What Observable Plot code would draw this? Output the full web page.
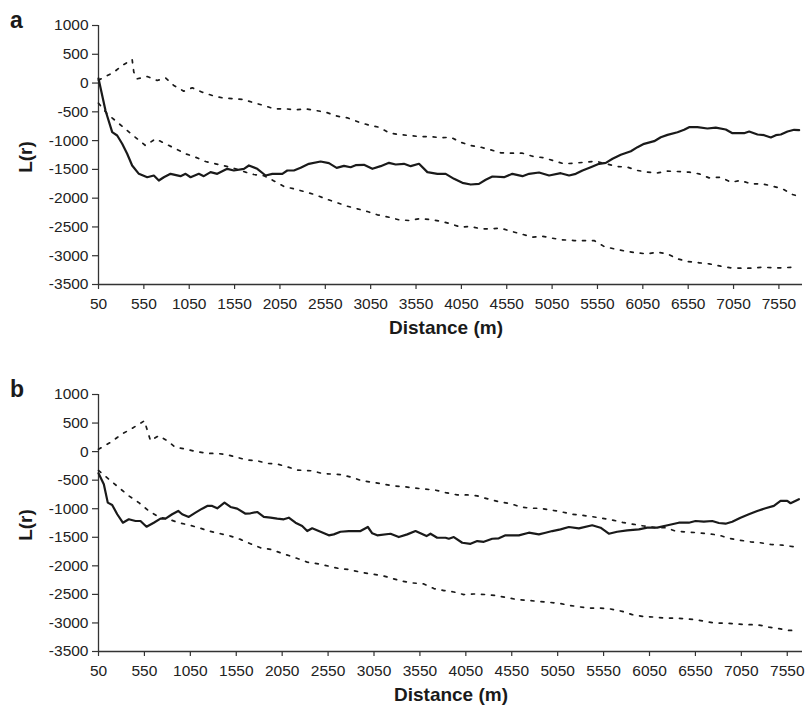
<!DOCTYPE html>
<html>
<head>
<meta charset="utf-8">
<script src="https://cdn.jsdelivr.net/npm/d3@7"></script>
<script src="https://cdn.jsdelivr.net/npm/@observablehq/plot@0.6"></script>
<style>
  html, body { margin: 0; padding: 0; background: #fff; }
  #wrap { position: relative; width: 810px; height: 707px; font-family: "Liberation Sans", Arial, sans-serif; }
  #wrap svg.plotsvg { position: absolute; left: 0; }
  #overlay { position: absolute; left: 0; top: 0; pointer-events: none; }
</style>
</head>
<body>
<div id="wrap"></div>
<script>
// ---------- DATA (distance m, L(r)) ----------
const xTicks = [50, 550, 1050, 1550, 2050, 2550, 3050, 3550, 4050, 4550, 5050, 5550, 6050, 6550, 7050, 7550];
const yTicks = [1000, 500, 0, -500, -1000, -1500, -2000, -2500, -3000, -3500];

// Panel a
const aObserved = [[50,80],[127,-477],[201,-853],[256,-911],[311,-1055],[366,-1229],[421,-1432],[495,-1577],[587,-1636],[660,-1606],[715,-1693],[770,-1636],[844,-1577],[954,-1618],[1010,-1577],[1065,-1636],[1156,-1577],[1211,-1618],[1285,-1548],[1359,-1577],[1469,-1490],[1542,-1519],[1653,-1490],[1708,-1432],[1800,-1490],[1892,-1606],[1966,-1577],[2076,-1577],[2131,-1519],[2204,-1519],[2278,-1473],[2369,-1403],[2498,-1363],[2590,-1392],[2675,-1473],[2756,-1438],[2829,-1462],[2884,-1427],[2976,-1421],[3069,-1490],[3160,-1444],[3252,-1386],[3326,-1415],[3417,-1403],[3491,-1444],[3583,-1403],[3675,-1548],[3786,-1577],[3877,-1577],[3969,-1664],[4061,-1733],[4153,-1763],[4244,-1751],[4318,-1681],[4392,-1624],[4520,-1636],[4612,-1577],[4723,-1618],[4796,-1577],[4906,-1554],[5017,-1606],[5145,-1566],[5237,-1606],[5311,-1577],[5385,-1519],[5476,-1462],[5568,-1403],[5642,-1386],[5716,-1316],[5807,-1247],[5918,-1184],[5991,-1114],[6064,-1056],[6175,-1010],[6248,-941],[6322,-900],[6432,-854],[6505,-812],[6560,-767],[6652,-767],[6762,-790],[6854,-773],[6964,-807],[7038,-871],[7166,-871],[7222,-842],[7314,-894],[7387,-906],[7461,-946],[7516,-906],[7571,-894],[7645,-842],[7718,-812],[7773,-819]];
const aUpper = [[50,50],[219,189],[311,305],[421,410],[439,189],[477,74],[587,114],[697,45],[789,91],[880,-42],[990,-141],[1083,-82],[1194,-159],[1304,-216],[1414,-256],[1542,-273],[1653,-286],[1763,-343],[1873,-390],[1984,-447],[2112,-447],[2223,-465],[2333,-447],[2443,-477],[2553,-506],[2683,-576],[2793,-604],[2922,-680],[3032,-732],[3142,-767],[3252,-865],[3362,-894],[3472,-911],[3583,-929],[3712,-929],[3822,-952],[3932,-941],[4042,-1028],[4153,-1085],[4263,-1114],[4373,-1160],[4484,-1212],[4612,-1219],[4723,-1219],[4833,-1271],[4961,-1299],[5072,-1352],[5182,-1403],[5292,-1392],[5421,-1375],[5531,-1357],[5642,-1403],[5771,-1450],[5881,-1462],[5991,-1519],[6101,-1548],[6212,-1560],[6322,-1531],[6432,-1537],[6560,-1548],[6670,-1577],[6781,-1647],[6909,-1636],[7020,-1723],[7130,-1693],[7240,-1751],[7369,-1751],[7480,-1792],[7590,-1838],[7700,-1936],[7730,-1950]];
const aLower = [[50,-350],[146,-534],[256,-680],[366,-824],[477,-969],[568,-1085],[679,-969],[789,-1055],[899,-1142],[1010,-1229],[1120,-1288],[1230,-1363],[1340,-1403],[1451,-1444],[1561,-1490],[1671,-1548],[1763,-1589],[1873,-1610],[1984,-1700],[2094,-1797],[2204,-1838],[2314,-1884],[2443,-1942],[2553,-2011],[2664,-2070],[2793,-2140],[2903,-2185],[3013,-2232],[3124,-2289],[3252,-2331],[3362,-2376],[3472,-2388],[3583,-2359],[3712,-2371],[3822,-2400],[3932,-2446],[4042,-2504],[4153,-2492],[4263,-2532],[4373,-2532],[4484,-2521],[4594,-2574],[4704,-2619],[4833,-2678],[4943,-2661],[5053,-2696],[5164,-2724],[5292,-2736],[5402,-2736],[5513,-2736],[5623,-2840],[5733,-2880],[5862,-2922],[5973,-2949],[6094,-2967],[6204,-2939],[6322,-2967],[6432,-3054],[6542,-3101],[6670,-3123],[6781,-3141],[6909,-3182],[7020,-3210],[7130,-3216],[7240,-3216],[7369,-3199],[7480,-3210],[7590,-3210],[7700,-3199],[7740,-3182]];

// Panel b
const bObserved = [[50,-380],[108,-570],[151,-893],[199,-934],[254,-1097],[315,-1245],[380,-1185],[453,-1215],[507,-1215],[573,-1315],[652,-1245],[725,-1174],[780,-1174],[852,-1097],[918,-1039],[961,-1097],[1033,-1144],[1106,-1069],[1179,-999],[1234,-951],[1288,-951],[1343,-992],[1422,-893],[1487,-969],[1560,-999],[1651,-1087],[1705,-1080],[1778,-1057],[1850,-1144],[1923,-1157],[1996,-1174],[2068,-1185],[2122,-1157],[2195,-1245],[2268,-1303],[2323,-1391],[2377,-1343],[2468,-1403],[2558,-1466],[2612,-1449],[2685,-1403],[2776,-1391],[2903,-1391],[2983,-1320],[3031,-1431],[3085,-1466],[3230,-1438],[3320,-1496],[3412,-1449],[3502,-1391],[3622,-1479],[3665,-1438],[3738,-1508],[3829,-1508],[3865,-1526],[3919,-1496],[4011,-1596],[4101,-1614],[4174,-1566],[4246,-1579],[4337,-1526],[4409,-1519],[4482,-1466],[4627,-1466],[4736,-1420],[4845,-1449],[4918,-1420],[4991,-1391],[5081,-1361],[5172,-1320],[5281,-1343],[5426,-1290],[5517,-1332],[5607,-1438],[5698,-1403],[5807,-1378],[5934,-1361],[6025,-1332],[6134,-1332],[6260,-1285],[6369,-1245],[6478,-1245],[6551,-1215],[6642,-1227],[6733,-1215],[6805,-1250],[6878,-1262],[6951,-1227],[7041,-1157],[7132,-1097],[7223,-1039],[7313,-992],[7404,-951],[7477,-863],[7550,-863],[7586,-904],[7677,-833]];
const bUpper = [[50,40],[181,162],[308,309],[435,425],[550,540],[616,191],[707,279],[798,191],[888,74],[997,46],[1106,3],[1234,-32],[1343,-32],[1451,-55],[1560,-102],[1669,-148],[1778,-160],[1887,-207],[1996,-218],[2105,-266],[2214,-324],[2377,-336],[2486,-383],[2595,-394],[2704,-406],[2813,-453],[2922,-512],[3048,-541],[3157,-570],[3266,-600],[3393,-617],[3502,-640],[3611,-658],[3720,-675],[3829,-717],[3956,-758],[4065,-758],[4174,-775],[4300,-833],[4409,-876],[4537,-911],[4645,-969],[4754,-992],[4863,-992],[4972,-1022],[5081,-1051],[5208,-1097],[5317,-1116],[5426,-1139],[5535,-1167],[5662,-1203],[5771,-1245],[5880,-1273],[5989,-1303],[6116,-1332],[6225,-1332],[6333,-1391],[6460,-1408],[6569,-1420],[6678,-1438],[6805,-1461],[6914,-1519],[7023,-1549],[7150,-1579],[7259,-1596],[7368,-1625],[7495,-1637],[7622,-1666],[7660,-1680]];
const bLower = [[50,-330],[162,-482],[271,-629],[380,-775],[489,-893],[598,-1039],[707,-1144],[816,-1185],[924,-1245],[1033,-1285],[1142,-1332],[1251,-1391],[1379,-1438],[1487,-1479],[1596,-1537],[1705,-1614],[1814,-1684],[1923,-1712],[2032,-1772],[2141,-1830],[2231,-1880],[2323,-1935],[2449,-1966],[2558,-2006],[2667,-2046],[2776,-2064],[2903,-2111],[3012,-2141],[3139,-2169],[3248,-2222],[3357,-2269],[3466,-2299],[3593,-2317],[3702,-2398],[3811,-2433],[3919,-2458],[4028,-2503],[4137,-2493],[4264,-2503],[4373,-2520],[4482,-2551],[4609,-2591],[4718,-2604],[4827,-2621],[4954,-2639],[5063,-2655],[5172,-2691],[5299,-2721],[5408,-2739],[5517,-2739],[5626,-2756],[5753,-2797],[5862,-2855],[5971,-2885],[6097,-2897],[6206,-2915],[6315,-2915],[6442,-2926],[6551,-2944],[6660,-2973],[6769,-3003],[6878,-3003],[7005,-3020],[7114,-3031],[7223,-3031],[7350,-3073],[7459,-3101],[7568,-3131],[7659,-3131]];

const panelLabels = ["a", "b"];
const yLabel = "L(r)";
const xLabel = "Distance (m)";

// ---------- DRAW ----------
function panel(obs, upper, lower, xMax, height, marginTop, marginBottom) {
  const ink = "#1a1a1a";
  return Plot.plot({
    width: 810,
    height,
    marginLeft: 98,
    marginRight: 8,
    marginTop,
    marginBottom,
    style: { fontFamily: "'Liberation Sans', Arial, sans-serif", fontSize: "15.5px", color: "#222", background: "#fff" },
    x: { domain: [50, xMax] },
    y: { domain: [-3500, 1000] },
    marks: [
      Plot.axisX({ ticks: xTicks, tickSize: 5, tickPadding: 8, tickFormat: d => String(d), label: null, fontSize: 15.5, stroke: "#333", strokeWidth: 1.2 }),
      Plot.axisY({ ticks: yTicks, tickSize: 6, tickPadding: 4, tickFormat: d => String(d), label: null, fontSize: 15.5, stroke: "#333", strokeWidth: 1.2 }),
      Plot.ruleX([50], { stroke: "#333", strokeWidth: 1.3 }),
      Plot.ruleY([-3500], { stroke: "#333", strokeWidth: 1.3 }),
      Plot.line(upper, { x: d => d[0], y: d => d[1], stroke: ink, strokeWidth: 1.7, strokeDasharray: "3,7" }),
      Plot.line(lower, { x: d => d[0], y: d => d[1], stroke: ink, strokeWidth: 1.7, strokeDasharray: "3,7" }),
      Plot.line(obs, { x: d => d[0], y: d => d[1], stroke: ink, strokeWidth: 2.2, strokeLinejoin: "round" })
    ]
  });
}

const wrap = document.getElementById("wrap");
const pa = panel(aObserved, aUpper, aLower, 7810, 355, 25, 71);
pa.classList.add("plotsvg"); pa.style.top = "0px";
wrap.appendChild(pa);
const pb = panel(bObserved, bUpper, bLower, 7716, 352, 39, 56);
pb.classList.add("plotsvg"); pb.style.top = "355px";
wrap.appendChild(pb);

// Text overlay: panel letters and axis titles
const ns = "http://www.w3.org/2000/svg";
const ov = document.createElementNS(ns, "svg");
ov.setAttribute("id", "overlay");
ov.setAttribute("width", 810);
ov.setAttribute("height", 707);
function addText(str, x, y, size, rotate, anchor) {
  const t = document.createElementNS(ns, "text");
  t.textContent = str;
  t.setAttribute("font-family", "'Liberation Sans', Arial, sans-serif");
  t.setAttribute("font-weight", "bold");
  t.setAttribute("font-size", size);
  t.setAttribute("fill", "#1a1a1a");
  t.setAttribute("text-anchor", anchor || "start");
  if (rotate) {
    t.setAttribute("transform", `translate(${x},${y}) rotate(-90)`);
  } else {
    t.setAttribute("x", x); t.setAttribute("y", y);
  }
  ov.appendChild(t);
}
addText(panelLabels[0], 10, 28, 23);
addText(panelLabels[1], 10, 397, 23);
addText(yLabel, 32, 157, 19, true, "middle");
addText(yLabel, 32, 525, 19, true, "middle");
addText(xLabel, 446, 334, 19, false, "middle");
addText(xLabel, 451, 701, 19, false, "middle");
wrap.appendChild(ov);
</script>
</body>
</html>
